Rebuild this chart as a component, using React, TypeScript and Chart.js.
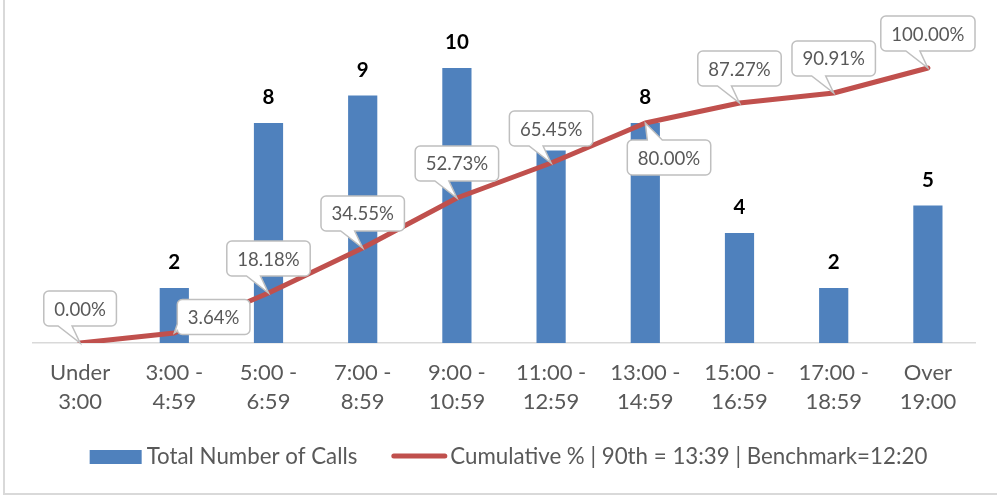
import React, { useEffect, useRef } from 'react';
import { Chart, registerables } from 'chart.js';

Chart.register(...registerables);

const categories: string[][] = [
  ['Under', '3:00'],
  ['3:00 -', '4:59'],
  ['5:00 -', '6:59'],
  ['7:00 -', '8:59'],
  ['9:00 -', '10:59'],
  ['11:00 -', '12:59'],
  ['13:00 -', '14:59'],
  ['15:00 -', '16:59'],
  ['17:00 -', '18:59'],
  ['Over', '19:00'],
];
const callCounts = [0, 2, 8, 9, 10, 7, 8, 4, 2, 5];
const cumulativePct = [0, 3.64, 18.18, 34.55, 52.73, 65.45, 80.0, 87.27, 90.91, 100.0];
const calloutPlacement = ['above', 'right', 'above', 'above', 'above', 'above', 'below', 'above', 'above', 'above'];
const seriesNames = ['Total Number of Calls', 'Cumulative % | 90th = 13:39 | Benchmark=12:20'];

const FONT = "Lato, 'Open Sans', sans-serif";
const BAR_COLOR = '#4F81BD';
const LINE_COLOR = '#C0504D';
const TEXT_GRAY = '#595959';

function calloutPath(
  ctx: CanvasRenderingContext2D,
  x: number, y: number, w: number, h: number, r: number,
  side: string, b1: number, b2: number, tx: number, ty: number
) {
  ctx.beginPath();
  ctx.moveTo(x + r, y);
  if (side === 'top') { ctx.lineTo(b1, y); ctx.lineTo(tx, ty); ctx.lineTo(b2, y); }
  ctx.lineTo(x + w - r, y);
  ctx.arcTo(x + w, y, x + w, y + r, r);
  ctx.lineTo(x + w, y + h - r);
  ctx.arcTo(x + w, y + h, x + w - r, y + h, r);
  if (side === 'bottom') { ctx.lineTo(b2, y + h); ctx.lineTo(tx, ty); ctx.lineTo(b1, y + h); }
  ctx.lineTo(x + r, y + h);
  ctx.arcTo(x, y + h, x, y + h - r, r);
  if (side === 'left') { ctx.lineTo(x, b2); ctx.lineTo(tx, ty); ctx.lineTo(x, b1); }
  ctx.lineTo(x, y + r);
  ctx.arcTo(x, y, x + r, y, r);
  ctx.closePath();
}

const framePlugin = {
  id: 'frame',
  beforeDraw(chart: any) {
    const ctx = chart.ctx as CanvasRenderingContext2D;
    ctx.save();
    ctx.fillStyle = '#ffffff';
    ctx.fillRect(0, 0, chart.width, chart.height);
    ctx.fillStyle = '#d9d9d9';
    ctx.fillRect(3, 0, 2, 495);
    ctx.fillRect(3, 493, chart.width - 3, 2);
    ctx.restore();
  },
};

const labelsPlugin = {
  id: 'labels',
  afterDatasetsDraw(chart: any) {
    const ctx = chart.ctx as CanvasRenderingContext2D;
    const barMeta = chart.getDatasetMeta(0);
    const lineMeta = chart.getDatasetMeta(1);
    ctx.save();
    // bar value labels
    ctx.font = `bold 20.5px ${FONT}`;
    ctx.fillStyle = '#000000';
    ctx.textAlign = 'center';
    ctx.textBaseline = 'middle';
    barMeta.data.forEach((bar: any, i: number) => {
      ctx.fillText(String(callCounts[i]), bar.x, bar.y - 25.5);
    });
    // callouts
    ctx.font = `18.6px ${FONT}`;
    lineMeta.data.forEach((pt: any, i: number) => {
      const text = cumulativePct[i].toFixed(2) + '%';
      const w = ctx.measureText(text).width + 21;
      const h = 35;
      const px = pt.x;
      const py = pt.y;
      const place = calloutPlacement[i];
      let bx: number, by: number, side: string, b1: number, b2: number;
      if (place === 'right') {
        bx = px + 3;
        by = py - 16 - h / 2;
        side = 'left';
        b1 = by + h / 2 + 7;
        b2 = by + h / 2 + 14;
      } else if (place === 'below') {
        bx = px - 18;
        by = py + 17;
        side = 'top';
        b1 = bx + 20;
        b2 = bx + 35;
      } else {
        bx = px - w / 2;
        by = py - 17 - h;
        side = 'bottom';
        b1 = px - 22;
        b2 = px - 8;
      }
      calloutPath(ctx, bx, by, w, h, 5, side, b1, b2, px, py);
      ctx.fillStyle = '#ffffff';
      ctx.fill();
      ctx.lineWidth = 1.5;
      ctx.strokeStyle = '#bfbfbf';
      ctx.stroke();
      ctx.fillStyle = TEXT_GRAY;
      ctx.textAlign = 'center';
      ctx.textBaseline = 'middle';
      ctx.fillText(text, bx + w / 2, by + h / 2 + 1);
    });
    ctx.restore();
  },
};

const legendPlugin = {
  id: 'customLegend',
  afterDraw(chart: any) {
    const ctx = chart.ctx as CanvasRenderingContext2D;
    ctx.save();
    ctx.font = `22.3px ${FONT}`;
    const t1 = ctx.measureText(seriesNames[0]).width;
    const t2 = ctx.measureText(seriesNames[1]).width;
    const total = 52 + 5 + t1 + 34 + 56 + 3 + t2;
    let x = 508.5 - total / 2;
    const cy = 457;
    ctx.fillStyle = BAR_COLOR;
    ctx.fillRect(x, cy - 7, 52, 14);
    x += 57;
    ctx.fillStyle = TEXT_GRAY;
    ctx.textAlign = 'left';
    ctx.textBaseline = 'middle';
    ctx.fillText(seriesNames[0], x, cy);
    x += t1 + 34;
    ctx.strokeStyle = LINE_COLOR;
    ctx.lineWidth = 5;
    ctx.lineCap = 'round';
    ctx.beginPath();
    ctx.moveTo(x + 2.5, cy - 1);
    ctx.lineTo(x + 53.5, cy - 1);
    ctx.stroke();
    x += 59;
    ctx.fillText(seriesNames[1], x, cy);
    ctx.restore();
  },
};

export default function App() {
  const canvasRef = useRef<HTMLCanvasElement | null>(null);

  useEffect(() => {
    const canvas = canvasRef.current;
    if (!canvas) return;
    const chart = new Chart(canvas, {
      type: 'bar',
      data: {
        labels: categories,
        datasets: [
          {
            type: 'bar',
            label: seriesNames[0],
            data: callCounts,
            backgroundColor: BAR_COLOR,
            borderWidth: 0,
            barPercentage: 0.31,
            categoryPercentage: 1,
            yAxisID: 'y',
            order: 2,
          },
          {
            type: 'line',
            label: seriesNames[1],
            data: cumulativePct,
            borderColor: LINE_COLOR,
            backgroundColor: LINE_COLOR,
            borderWidth: 5,
            pointRadius: 0,
            tension: 0,
            borderJoinStyle: 'round',
            borderCapStyle: 'round',
            yAxisID: 'y1',
            order: 1,
          } as any,
        ],
      },
      options: {
        responsive: false,
        animation: false,
        devicePixelRatio: 1,
        layout: { padding: { top: 13, left: 33, right: 22, bottom: 0 } },
        plugins: {
          legend: { display: false },
          tooltip: { enabled: false },
        },
        scales: {
          x: {
            grid: { display: false, drawTicks: false },
            border: { display: true, color: '#d9d9d9', width: 1.5 },
            ticks: {
              color: TEXT_GRAY,
              font: { family: FONT, size: 22, lineHeight: '29px' },
              padding: 15.5,
              maxRotation: 0,
              autoSkip: false,
            },
            afterFit: (s: any) => {
              s.height = 154;
            },
          },
          y: { display: false, min: 0, max: 12 },
          y1: { display: false, min: 0, max: 120 },
        },
      } as any,
      plugins: [framePlugin, labelsPlugin, legendPlugin],
    });
    return () => chart.destroy();
  }, []);

  return (
    <div style={{ position: 'fixed', left: 0, top: 0, width: 997, height: 497, background: '#fff' }}>
      <canvas ref={canvasRef} width={997} height={497} style={{ display: 'block', width: 997, height: 497 }} />
    </div>
  );
}
